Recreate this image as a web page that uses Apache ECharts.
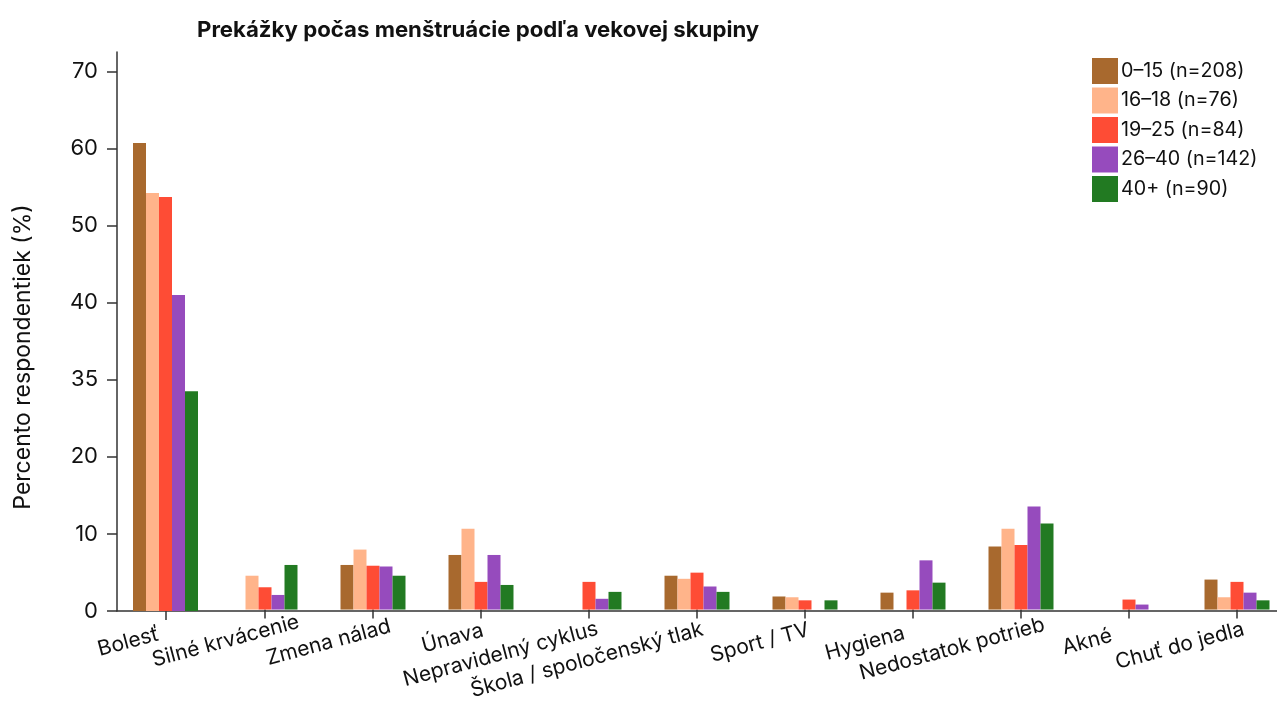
<!DOCTYPE html>
<html>
<head>
<meta charset="utf-8">
<script src="https://cdn.jsdelivr.net/npm/echarts@6/dist/echarts.min.js"></script>
<style>
html,body{margin:0;padding:0;background:#fff;overflow:hidden;}
#chart{width:1300px;height:702px;}
</style>
</head>
<body>
<div id="chart"></div>
<script>
const title = 'Prekážky počas menštruácie podľa vekovej skupiny';
const yAxisTitle = 'Percento respondentiek (%)';
const categories = ['Bolesť','Silné krvácenie','Zmena nálad','Únava','Nepravidelný cyklus','Škola / spoločenský tlak','Sport / TV','Hygiena','Nedostatok potrieb','Akné','Chuť do jedla'];
const seriesNames = ['0–15 (n=208)','16–18 (n=76)','19–25 (n=84)','26–40 (n=142)','40+ (n=90)'];
const colors = ['#a8692e','#ffb48a','#fe4c35','#964bbd','#227a22'];
const age0_15  = [60.7, 0,   5.8, 7.1, 0,   4.4, 1.7, 2.2, 8.2, 0,   3.9];
const age16_18 = [54.2, 4.4, 7.8, 10.5,0,   4.0, 1.6, 0,   10.5,0,   1.6];
const age19_25 = [53.7, 2.9, 5.7, 3.6, 3.6, 4.8, 1.2, 2.5, 8.4, 1.3, 3.6];
const age26_40 = [41.0, 1.9, 5.6, 7.1, 1.4, 3.0, 0,   6.4, 13.4,0.65,2.2];
const age40p   = [28.5, 5.8, 4.4, 3.2, 2.3, 2.3, 1.2, 3.5, 11.2,0,   1.2];
const seriesValues = [age0_15, age16_18, age19_25, age26_40, age40p];
const yTickValues = [0,10,20,30,40,50,60,70];
const yTickLabels = ['0','10','20','35','40','50','60','70'];

// styling: small along-text shifts of the rotated category labels (px), as in the reference
const labelShift = [-7, 35, 18, 2, 9, 6, 4, -9, 24, -18, 7];

const FONT = 'Inter';
const chart = echarts.init(document.getElementById('chart'));

const catData = categories.map(function (c, i) {
  return {value: c, textStyle: {padding: [0, -labelShift[i], 0, 0]}};
});
const firstOnly = function (idx) { return idx === 0; };
const restOnly = function (idx) { return idx !== 0; };

function catAxis(gridIndex, intervalFn) {
  return {
    gridIndex: gridIndex, type: 'category', data: catData,
    axisLine: {show: false},
    axisTick: {show: true, alignWithLabel: true, interval: intervalFn, length: 9, lineStyle: {color: '#333', width: 1.5}},
    axisLabel: {interval: intervalFn, rotate: 15, margin: 21, fontFamily: FONT, fontSize: 21, color: '#111'},
    splitLine: {show: false}
  };
}

const series = [];
seriesNames.forEach(function (name, k) {
  series.push({
    name: name, type: 'bar', xAxisIndex: 1, yAxisIndex: 1,
    data: seriesValues[k].map(function (v, i) { return i === 0 ? '-' : v; }),
    barWidth: 13, barGap: '0%', itemStyle: {color: colors[k]}
  });
  series.push({
    name: name, type: 'bar', xAxisIndex: 2, yAxisIndex: 2,
    data: seriesValues[k].map(function (v, i) { return i === 0 ? v : '-'; }),
    barWidth: 13, barGap: '0%', itemStyle: {color: colors[k]}
  });
});

const option = {
  backgroundColor: '#fff',
  animation: false,
  textStyle: {fontFamily: FONT},
  color: colors,
  title: {
    text: title, left: 192, top: 14,
    textStyle: {fontFamily: FONT, fontSize: 22.2, fontWeight: 'bold', color: '#111'}
  },
  legend: {
    orient: 'vertical', left: 1087, top: 53,
    itemWidth: 26, itemHeight: 26, itemGap: 3.5,
    icon: 'rect',
    textStyle: {fontFamily: FONT, fontSize: 19.7, color: '#111', padding: [0,0,0,-2]},
    data: seriesNames
  },
  graphic: [{
    type: 'text', rotation: Math.PI/2,
    x: 23, y: 357,
    style: {text: yAxisTitle, font: '23px ' + FONT, fill: '#111', textAlign: 'center', textVerticalAlign: 'middle'}
  }],
  grid: [
    {left: 117, width: 1160, top: 52, bottom: 91, containLabel: false},
    {left: 103, width: 1188, top: 52, bottom: 91, containLabel: false},
    {left: 111.5, width: 1188, top: 52, bottom: 91, containLabel: false}
  ],
  xAxis: [
    {gridIndex: 0, type: 'value', min: 0, max: 1,
     axisLine: {show: true, lineStyle: {color: '#333', width: 1.5}},
     axisTick: {show: false}, axisLabel: {show: false}, splitLine: {show: false}},
    catAxis(1, restOnly),
    catAxis(2, firstOnly)
  ],
  yAxis: [
    {gridIndex: 0, type: 'value', min: 0, max: 72.5,
     axisLine: {show: true, lineStyle: {color: '#333', width: 1.5}},
     axisTick: {show: true, length: 10, customValues: yTickValues, lineStyle: {color: '#333', width: 1.5}},
     axisLabel: {customValues: yTickValues, margin: 19, fontFamily: FONT, fontSize: 22, color: '#111',
       formatter: function (v) { const i = yTickValues.indexOf(v); return i >= 0 ? yTickLabels[i] : ''; }},
     splitLine: {show: false}},
    {gridIndex: 1, type: 'value', min: 0, max: 72.5, show: false, splitLine: {show: false}},
    {gridIndex: 2, type: 'value', min: 0, max: 72.5, show: false, splitLine: {show: false}}
  ],
  series: series
};
chart.setOption(option);
</script>
</body>
</html>
